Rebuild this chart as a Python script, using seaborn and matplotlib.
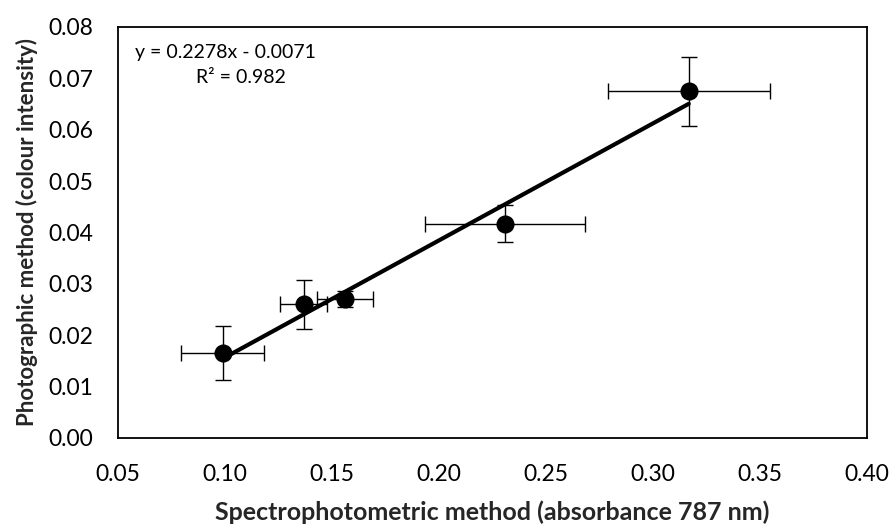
import numpy as np
import pandas as pd
import matplotlib
matplotlib.use("Agg")
import matplotlib.pyplot as plt
import seaborn as sns

# Measured values: spectrophotometric absorbance vs photographic colour intensity
absorbance = [0.0989, 0.1369, 0.1561, 0.2308, 0.3167]
intensity = [0.0165, 0.0260, 0.0271, 0.0417, 0.0675]
absorbance_err = [0.0195, 0.0110, 0.0133, 0.0373, 0.0378]
intensity_err = [0.0053, 0.0047, 0.0016, 0.0036, 0.0067]

# Linear fit coefficients shown on the chart
slope = 0.2278
intercept = -0.0071
r_squared = 0.982

x_ticks = [0.05, 0.10, 0.15, 0.20, 0.25, 0.30, 0.35, 0.40]
y_ticks = [0.00, 0.01, 0.02, 0.03, 0.04, 0.05, 0.06, 0.07, 0.08]

sns.set_style("white")
plt.rcParams["font.family"] = ["Lato", "DejaVu Sans"]

df = pd.DataFrame({"absorbance": absorbance, "intensity": intensity})

fig = plt.figure(figsize=(8.93, 5.27), dpi=100)
ax = fig.add_axes([0.1321, 0.1689, 0.8388, 0.7799])

# Error bars
ax.errorbar(absorbance, intensity, xerr=absorbance_err, yerr=intensity_err,
            fmt="none", ecolor="black", elinewidth=1.0, capsize=6,
            capthick=1.0, zorder=2)

# Trendline across the measured range
fit_x = np.array([min(absorbance), max(absorbance)])
fit_df = pd.DataFrame({"x": fit_x, "y": slope * fit_x + intercept})
sns.lineplot(data=fit_df, x="x", y="y", ax=ax, color="black", linewidth=3.0,
             zorder=3)

# Data points
sns.scatterplot(data=df, x="absorbance", y="intensity", ax=ax, color="black",
                s=170, edgecolor="black", linewidth=0, zorder=4)

ax.set_xlim(0.05, 0.40)
ax.set_ylim(0.0, 0.08)
ax.set_xticks(x_ticks)
ax.set_yticks(y_ticks)
ax.set_xticklabels([f"{v:.2f}" for v in x_ticks])
ax.set_yticklabels([f"{v:.2f}" for v in y_ticks])
ax.tick_params(axis="both", direction="out", length=7, width=1.0,
               labelsize=16.5, color="black", labelcolor="black")
ax.tick_params(axis="y", pad=11)
ax.tick_params(axis="x", pad=12)
for side in ["left", "right", "top", "bottom"]:
    ax.spines[side].set_visible(True)
    ax.spines[side].set_color("black")
    ax.spines[side].set_linewidth(1.3)

ax.set_xlabel("Spectrophotometric method (absorbance 787 nm)",
              fontsize=18, fontweight="bold", labelpad=11)
ax.set_ylabel("Photographic method (colour intensity)",
              fontsize=16, fontweight="bold", labelpad=7)

# Fit equation and coefficient of determination
ax.text(0.1000, 0.0751, f"y = {slope:.4f}x - {abs(intercept):.4f}",
        ha="center", va="center", fontsize=14, color="black")
ax.text(0.1075, 0.0701, f"R² = {r_squared:.3f}",
        ha="center", va="center", fontsize=14, color="black")

fig.savefig("out.png", dpi=100, facecolor="white")
